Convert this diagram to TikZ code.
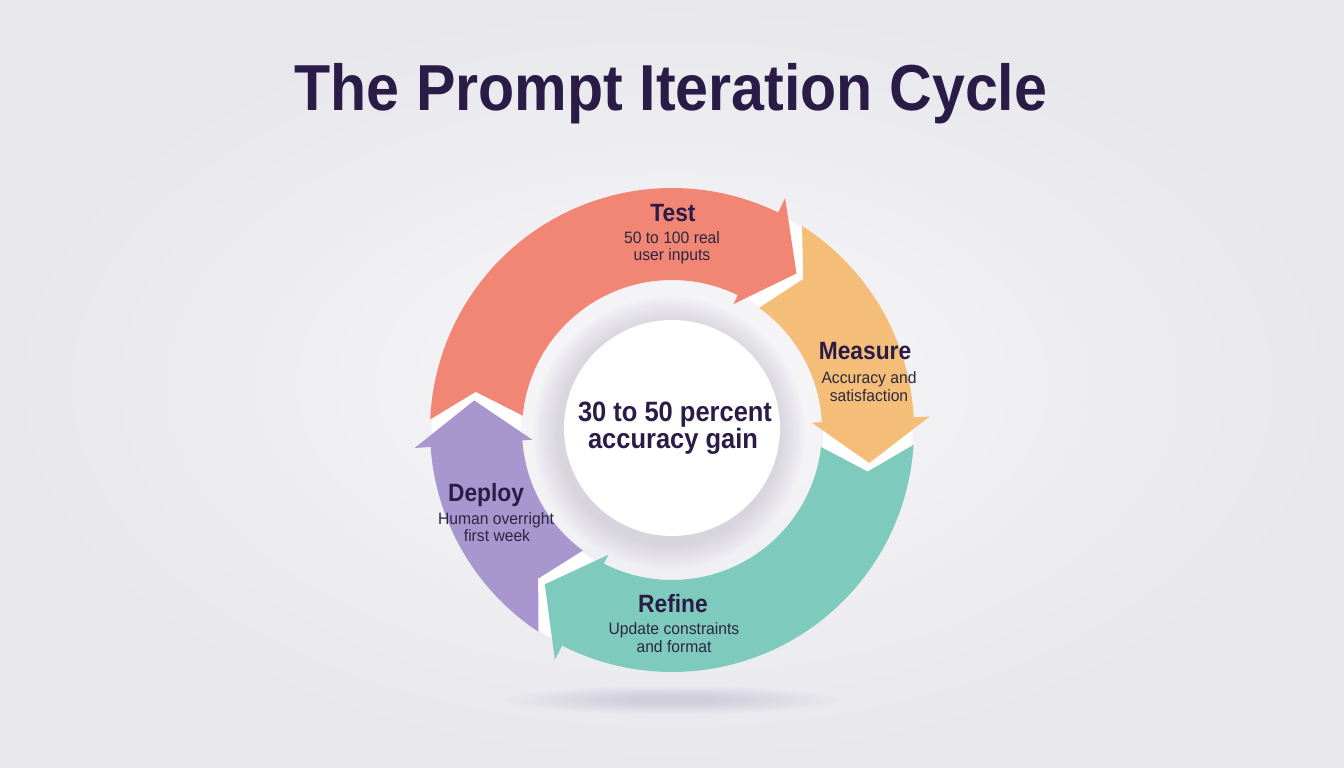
\documentclass[tikz,border=0pt]{standalone}
\usepackage{fontspec}
\setmainfont{Liberation Sans}
\newfontfamily\condfont{Liberation Sans}[FakeStretch=0.91]
\newfontfamily\subfont{Liberation Sans}[FakeStretch=0.95]
\definecolor{bgout}{HTML}{E7E7EC}
\definecolor{bgin}{HTML}{F8F8FA}
\definecolor{cTest}{HTML}{F28674}
\definecolor{cMeas}{HTML}{F4BE78}
\definecolor{cRef}{HTML}{7ECBBD}
\definecolor{cDep}{HTML}{A897CF}
\definecolor{ink}{HTML}{2B1B47}
\definecolor{subink}{HTML}{2C2640}
\definecolor{shd}{HTML}{8A82AC}
\newcommand{\ringpart}[3]{%
  \fill[#1] ({#2-6.5}:242pt) arc[start angle={#2-6.5}, end angle={#3}, radius=242pt]
    -- ({#3}:258pt) -- ({#3-12.5}:200pt) -- ({#3}:140pt) -- ({#3}:150pt)
    arc[start angle={#3}, end angle={#2-9.5}, radius=150pt]
    -- ({#2-15}:200pt) -- cycle;}
\begin{document}
\begin{tikzpicture}[x=1pt,y=1pt,
  titlestyle/.style={inner sep=0pt, text=ink, font=\condfont\bfseries\fontsize{65}{70}\selectfont},
  labstyle/.style={inner sep=0pt, text=ink, font=\condfont\bfseries\fontsize{25}{30}\selectfont},
  substyle/.style={inner sep=0pt, text=subink, font=\subfont\fontsize{16.5}{20}\selectfont},
  corestyle/.style={inner sep=0pt, text=ink, font=\condfont\bfseries\fontsize{28}{32}\selectfont}]
\useasboundingbox (0,0) rectangle (1344,768);
\shade[inner color=bgin, outer color=bgout] (0,0) rectangle (1344,768);

% floor shadow
\foreach \k in {0,...,9}
  \fill[shd, opacity=0.022] (672,68) ellipse[x radius={165-13*\k}, y radius={14-1.1*\k}];

% title
\node[titlestyle, anchor=base] (title) at (671,657) {The Prompt Iteration Cycle};

% white base of the ring (shows in the gaps)
\fill[white, even odd rule] (672,338) circle[radius=240.5] circle[radius=151.5];

% ring segments
\begin{scope}[shift={(672,338)}]
  \ringpart{cTest}{184}{64}
  \ringpart{cMeas}{64}{3}
  \ringpart{cRef}{3}{-117}
  \ringpart{cDep}{243}{184}
\end{scope}

% centre shadow and circle
\foreach \k in {0,...,12}
  \fill[shd, opacity=0.02] (669,335) circle[radius={136-2*\k}];
\node[circle, fill=white, minimum size=216pt, inner sep=0pt] (core) at (672,340) {};
\node[corestyle, anchor=base] (coreA) at (675,346) {30 to 50 percent};
\node[corestyle, anchor=base] (coreB) at (673,319) {accuracy gain};

% Test
\node[labstyle, anchor=base] (testT) at (673,546) {Test};
\node[substyle, anchor=base] (testA) at (672,524) {50 to 100 real};
\node[substyle, anchor=base] (testB) at (672,507) {user inputs};

% Measure
\node[labstyle, anchor=base] (measT) at (865,408) {Measure};
\node[substyle, anchor=base] (measA) at (869,384) {Accuracy and};
\node[substyle, anchor=base] (measB) at (869,366) {satisfaction};

% Refine
\node[labstyle, anchor=base] (refT) at (673,155) {Refine};
\node[substyle, anchor=base] (refA) at (674,133) {Update constraints};
\node[substyle, anchor=base] (refB) at (674,115) {and format};

% Deploy
\node[labstyle, anchor=base] (depT) at (486,266) {Deploy};
\node[substyle, anchor=base] (depA) at (496,243) {Human overright};
\node[substyle, anchor=base] (depB) at (497,226) {first week};
\end{tikzpicture}
\end{document}
